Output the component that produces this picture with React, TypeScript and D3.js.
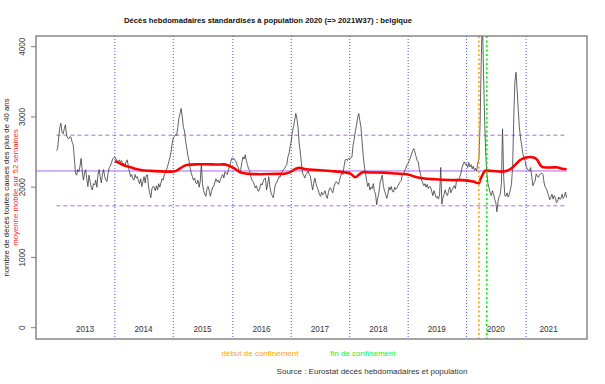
import * as d3 from "d3";

const width = 605;
const height = 384;
const plot = { left: 36, right: 587, top: 36, bottom: 339 };

// weekly standardised deaths, one array per year
const deaths2013 = [2520, 2540, 2700, 2850, 2910, 2780, 2760, 2830, 2890, 2740,
  2700, 2690, 2720, 2710, 2640, 2600, 2400, 2200, 2170, 2250,
  2220, 2300, 2410, 2230, 2100, 2200, 2250, 2120, 2010, 2170,
  2080, 2000, 1960, 2050, 2030, 2100, 2000, 2180, 2250, 2150,
  2060, 2190, 2250, 2150, 2100, 2080, 2200, 2280, 2300, 2350,
  2400, 2420];
const deaths2014 = [2430, 2400, 2380, 2360, 2390, 2350, 2380, 2320, 2340, 2310,
  2360, 2390, 2300, 2220, 2150, 2180, 2120, 2100, 2180, 2130,
  2150, 2090, 2050, 2120, 2010, 2080, 2150, 2060, 2170, 2175,
  2000, 1920, 1850, 1980, 2010, 2000, 1950, 2020, 1960, 2050,
  2000, 2060, 2120, 2100, 2180, 2200, 2250, 2300, 2360, 2420,
  2500, 2620];
const deaths2015 = [2700, 2720, 2750, 2740, 2850, 2980, 3050, 3120, 3000, 2850,
  2800, 2650, 2560, 2450, 2380, 2270, 2200, 2150, 2100, 2130,
  2060, 2050, 2100, 2000, 2080, 2340, 2050, 1950, 1900, 1870,
  1980, 2010, 1950, 1870, 1940, 2000, 2010, 2070, 2120, 2080,
  2100, 2060, 2110, 2150, 2180, 2130, 2220, 2200, 2180, 2240,
  2290, 2350, 2410];
const deaths2016 = [2400, 2410, 2380, 2360, 2300, 2280, 2200, 2250, 2350, 2430,
  2400, 2460, 2380, 2320, 2260, 2240, 2150, 2100, 2080, 2040,
  1990, 2020, 1960, 1940, 1990, 2050, 2030, 2080, 2120, 2130,
  1960, 2050, 2150, 2000, 1920, 1880, 1850, 1960, 2050, 2060,
  2100, 2150, 2140, 2200, 2220, 2250, 2260, 2300, 2320, 2430,
  2480, 2580];
const deaths2017 = [2650, 2790, 2860, 2950, 3050, 2980, 2860, 2630, 2500, 2340,
  2200, 2170, 2130, 2180, 2200, 2230, 2180, 2150, 2050, 1960,
  2060, 2130, 2050, 2000, 1960, 1900, 1870, 1930, 1890, 1910,
  1950, 1880, 1840, 1920, 1980, 1990, 1950, 1920, 2010, 2050,
  2080, 2060, 2040, 2100, 2160, 2200, 2180, 2300, 2390, 2400,
  2380, 2410];
const deaths2018 = [2400, 2420, 2430, 2600, 2680, 2790, 2880, 2980, 3050, 2950,
  2860, 2650, 2450, 2300, 2200, 2100, 2010, 2060, 1960, 2000,
  1980, 2050, 1940, 1900, 1750, 1850, 1920, 2060, 2120, 2170,
  2010, 1950, 1900, 1840, 1900, 2000, 1960, 2010, 1940, 1930,
  2000, 1970, 1990, 2020, 2050, 2080, 2100, 2200, 2180, 2240,
  2270, 2320];
const deaths2019 = [2340, 2380, 2420, 2470, 2520, 2550, 2500, 2440, 2380, 2360,
  2250, 2190, 2100, 2060, 2020, 2050, 2000, 2040, 1980, 2010,
  2000, 1940, 1880, 1950, 1900, 1850, 1870, 1830, 1900, 2280,
  1760, 1850, 1900, 1960, 1900, 1880, 1950, 2000, 1920, 1960,
  1990, 2020, 1980, 2080, 2120, 2090, 2150, 2200, 2280, 2330,
  2360, 2320];
const deaths2020 = [2330, 2280, 2350, 2290, 2320, 2260, 2300, 2240, 2270, 2230,
  2350, 2400, 2900, 3750, 4450, 3700, 3000, 2500, 2200, 2050,
  1990, 1920, 1880, 1950, 1900, 1830, 1780, 1650, 1800, 1870,
  1900, 2050, 2830, 2150, 1880, 1870, 1920, 1860, 1900, 1960,
  2050, 2300, 3000, 3500, 3635, 3380, 3100, 2850, 2700, 2600,
  2480, 2420, 2380];
const deaths2021 = [2300, 2260, 2240, 2230, 2280, 2150, 2020, 2060, 2090, 2190,
  2160, 2140, 2180, 2190, 2200, 2180, 2060, 2000, 1980, 1930,
  1880, 1820, 1860, 1900, 1830, 1880, 1850, 1780, 1800, 1860,
  1830, 1840, 1900, 1840, 1870, 1930, 1850];

const years = [2013, 2014, 2015, 2016, 2017, 2018, 2019, 2020, 2021];
const weeksPerYear = [52, 52, 53, 52, 52, 52, 52, 53, 37];
const deathsByYear = [deaths2013, deaths2014, deaths2015, deaths2016, deaths2017,
  deaths2018, deaths2019, deaths2020, deaths2021];

// 52-week moving average (red), [week index, value]
const movingAvg: [number, number][] = [
  [52, 2373], [55, 2350], [59, 2320], [62, 2300], [66, 2285], [70, 2262], [75, 2245],
  [84, 2232], [93, 2225], [102, 2222], [106, 2230], [110, 2268], [116, 2316], [124, 2325],
  [133, 2326], [142, 2322], [149, 2325], [153, 2310], [158, 2270], [164, 2210], [173, 2188],
  [182, 2185], [190, 2188], [202, 2190], [208, 2215], [213, 2262], [216, 2275], [222, 2255],
  [232, 2245], [244, 2230], [257, 2210], [262, 2190], [266, 2141], [269, 2175], [273, 2215],
  [279, 2210], [291, 2207], [302, 2195], [312, 2183], [319, 2150], [326, 2126], [337, 2112],
  [350, 2102], [361, 2100], [371, 2080], [376, 2055], [377, 2100], [379, 2170], [382, 2236],
  [388, 2230], [396, 2221], [401, 2235], [405, 2269], [409, 2330], [413, 2390], [417, 2420],
  [422, 2430], [425, 2420], [428, 2387], [430, 2330], [433, 2283], [439, 2280], [445, 2283],
  [450, 2262], [454, 2255],
];

const meanLevel = 2231;
const upperLevel = 2740;
const lowerLevel = 1735;
const yTicks = [0, 1000, 2000, 3000, 4000];
const lockdownStart = { year: 2020, week: 12 };
const lockdownEnd = { year: 2020, week: 19 };

const font = "'Liberation Sans', Arial, sans-serif";

export default function App() {
  // cumulative week index of each year start
  const yearStart: number[] = [];
  let acc = 0;
  weeksPerYear.forEach((n) => {
    yearStart.push(acc);
    acc += n;
  });
  const series = deathsByYear.flatMap((arr, i) => arr.map((v, w) => ({ i: yearStart[i] + w, v })));
  const lastIdx = series[series.length - 1].i;
  const pad = lastIdx * 0.04;

  const x = d3.scaleLinear().domain([-pad, lastIdx + pad]).range([plot.left, plot.right]);
  const y = d3.scaleLinear().domain([-161, 4152]).range([plot.bottom, plot.top]);

  const line = d3.line<{ i: number; v: number }>()
    .x((d) => x(d.i))
    .y((d) => y(d.v));
  const maLine = d3.line<[number, number]>()
    .x((d) => x(d[0]))
    .y((d) => y(d[1]))
    .curve(d3.curveMonotoneX);

  const idxOf = (p: { year: number; week: number }) => yearStart[years.indexOf(p.year)] + p.week - 1;
  const purple = "#a968f0";

  return (
    <svg width={width} height={height} style={{ position: "absolute", left: 0, top: 0, background: "#fff" }}
      fontFamily={font}>
      <defs>
        <clipPath id="plotClip">
          <rect x={plot.left} y={plot.top} width={plot.right - plot.left} height={plot.bottom - plot.top} />
        </clipPath>
      </defs>

      <text x={268} y={23} textAnchor="middle" fontSize={7.7} fontWeight="bold" fill="#111">
        Décès hebdomadaires standardisés à population 2020 (=&gt; 2021W37) : belgique
      </text>

      {/* year separators */}
      {yearStart.slice(1).map((s, k) => (
        <line key={k} x1={x(s)} x2={x(s)} y1={plot.top} y2={plot.bottom}
          stroke="#4455ff" strokeWidth={1} strokeDasharray="1 2" />
      ))}

      {/* reference levels */}
      <line x1={plot.left} x2={x(lastIdx)} y1={y(meanLevel)} y2={y(meanLevel)} stroke={purple} strokeWidth={1} />
      {[upperLevel, lowerLevel].map((lv) => (
        <line key={lv} x1={x(0)} x2={x(lastIdx)} y1={y(lv)} y2={y(lv)}
          stroke={purple} strokeWidth={1} strokeDasharray="4 3" />
      ))}

      <g clipPath="url(#plotClip)">
        <path d={line(series) ?? ""} fill="none" stroke="#3a3a3a" strokeWidth={0.8} />
        <path d={maLine(movingAvg) ?? ""} fill="none" stroke="#ff0000" strokeWidth={2.6} />
      </g>

      {/* lockdown markers */}
      <line x1={x(idxOf(lockdownStart))} x2={x(idxOf(lockdownStart))} y1={plot.top} y2={plot.bottom}
        stroke="#ffa500" strokeWidth={1.6} strokeDasharray="2 2.5" />
      <line x1={x(idxOf(lockdownEnd))} x2={x(idxOf(lockdownEnd))} y1={plot.top} y2={plot.bottom}
        stroke="#00ee00" strokeWidth={1.6} strokeDasharray="2 2.5" />

      {/* year labels */}
      {years.map((yr, k) => (
        <text key={yr} x={x(yearStart[k] + (weeksPerYear[k] - 1) / 2 + (k === years.length - 1 ? 2 : 0))}
          y={332} textAnchor="middle" fontSize={8.2} fill="#333">{yr}</text>
      ))}

      {/* box and y axis */}
      <rect x={plot.left} y={plot.top} width={plot.right - plot.left} height={plot.bottom - plot.top}
        fill="none" stroke="#7f7f7f" strokeWidth={1.4} />
      {yTicks.map((t) => (
        <g key={t}>
          <line x1={plot.left - 5} x2={plot.left} y1={y(t)} y2={y(t)} stroke="#7f7f7f" strokeWidth={1} />
          <text transform={`translate(25, ${y(t)}) rotate(-90)`} textAnchor="middle" fontSize={8.2} fill="#333">{t}</text>
        </g>
      ))}
      <text transform={`translate(9, ${(plot.top + plot.bottom) / 2}) rotate(-90)`} textAnchor="middle"
        fontSize={7.8} fill="#222">nombre de décès toutes causes des plus de 40 ans</text>
      <text transform={`translate(18, ${(plot.top + plot.bottom) / 2}) rotate(-90)`} textAnchor="middle"
        fontSize={7.8} fill="#ff2020">moyenne mobile sur 52 semaines</text>

      <text x={260} y={356} textAnchor="middle" fontSize={8} fill="#ffa500">début de confinement</text>
      <text x={363} y={356} textAnchor="middle" fontSize={8} fill="#22ee22">fin de confinement</text>
      <text x={372} y={374} textAnchor="middle" fontSize={8} fill="#333">Source : Eurostat décès hebdomadaires et population</text>
    </svg>
  );
}
